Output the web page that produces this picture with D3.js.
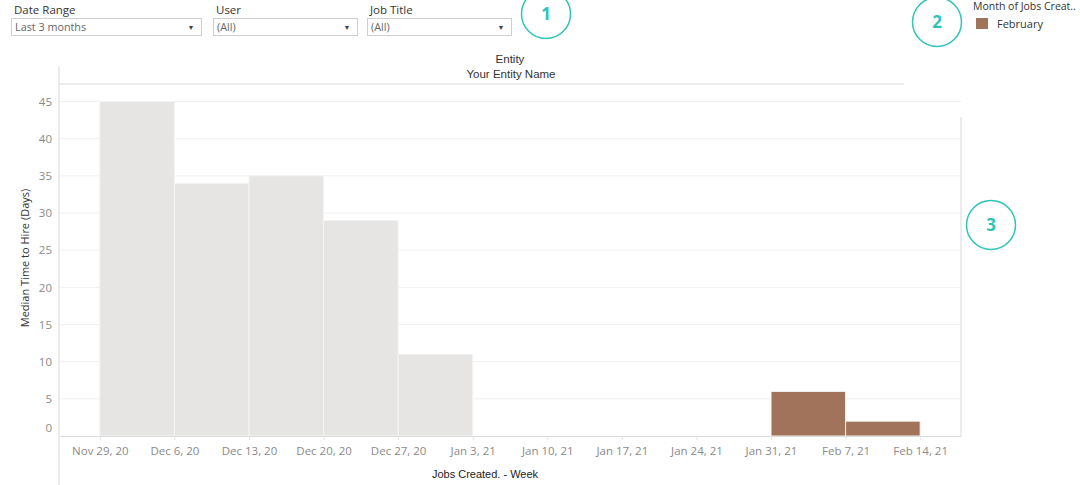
<!DOCTYPE html>
<html>
<head>
<meta charset="utf-8">
<script src="https://cdn.jsdelivr.net/npm/d3@7"></script>
<style>
  body { margin: 0; background: #fff; }
  svg text { font-family: "Open Sans", sans-serif; }
</style>
</head>
<body>
<div id="chart"></div>
<script>
// Data: one bar per week of job creation
const weeks = ["2020-11-29", "2020-12-06", "2020-12-13", "2020-12-20", "2020-12-27", "2021-01-31", "2021-02-07"];
const medianDays = [45, 34, 35, 29, 11, 6, 2];
const monthGroup = ["other", "other", "other", "other", "other", "February", "February"];
const yTicks = [0, 5, 10, 15, 20, 25, 30, 35, 40, 45];
const filterNames = ["Date Range", "User", "Job Title"];
const filterValues = ["Last 3 months", "(All)", "(All)"];
const legendItems = ["February"];

const W = 1080, H = 485;
const teal = "#2fc4b8";
const colors = {other: "#e6e5e3", February: "#a1735a"};

const svg = d3.select("#chart").append("svg")
  .attr("width", W).attr("height", H);

const parse = d3.utcParse("%Y-%m-%d");
const bars = weeks.map((w, i) => ({date: parse(w), value: medianDays[i], group: monthGroup[i]}));

// Plot area
const left = 59, right = 961, base = 436;
const firstWeek = parse("2020-11-29"), lastWeek = parse("2021-02-14");

const x = d3.scaleUtc()
  .domain([d3.utcHour.offset(firstWeek, -92), d3.utcHour.offset(lastWeek, 92)])
  .range([left, right]);

const y = d3.scaleLinear()
  .domain([0, 45])
  .range([base, 101.5]);

// Gridlines
svg.append("g")
  .selectAll("line")
  .data(yTicks.filter(d => d > 0))
  .enter().append("line")
    .attr("x1", left).attr("x2", right)
    .attr("y1", d => y(d)).attr("y2", d => y(d))
    .attr("stroke", "#f0f0f0");

// Bars
svg.append("g")
  .selectAll("rect")
  .data(bars)
  .enter().append("rect")
    .attr("x", d => x(d.date))
    .attr("y", d => y(d.value))
    .attr("width", d => x(d3.utcWeek.offset(d.date, 1)) - x(d.date))
    .attr("height", d => base - y(d.value))
    .attr("fill", d => colors[d.group])
    .attr("stroke", "#f4f4f4")
    .attr("stroke-width", 1);

// Y axis
const yAxis = svg.append("g")
  .attr("transform", "translate(" + left + ",0)")
  .call(d3.axisLeft(y).tickValues(yTicks).tickSize(0).tickPadding(7));
yAxis.select(".domain").remove();
yAxis.selectAll("text")
  .attr("fill", "#8a8a8a")
  .style("font-size", "11.5px")
  .attr("dy", d => d === 0 ? "-0.35em" : "0.32em");

// X axis
const xAxis = svg.append("g")
  .attr("transform", "translate(0," + base + ")")
  .call(d3.axisBottom(x)
    .ticks(d3.utcWeek.every(1))
    .tickFormat(d3.utcFormat("%b %-d, %y"))
    .tickSize(4).tickSizeOuter(0).tickPadding(7));
xAxis.select(".domain").attr("stroke", "#dcdcdc");
xAxis.selectAll(".tick line").attr("stroke", "#e4e4e4");
xAxis.selectAll("text")
  .attr("fill", "#8a8a8a")
  .style("font-size", "11.5px");

// Frame lines
svg.append("line")
  .attr("x1", left).attr("x2", left).attr("y1", 66).attr("y2", H)
  .attr("stroke", "#d8d8d8");
svg.append("line")
  .attr("x1", right).attr("x2", right).attr("y1", 117).attr("y2", base)
  .attr("stroke", "#d8d8d8");
svg.append("line")
  .attr("x1", left).attr("x2", 904).attr("y1", 84).attr("y2", 84)
  .attr("stroke", "#dcdcdc");

// Header
svg.append("text").attr("x", 510).attr("y", 63)
  .attr("text-anchor", "middle").style("font-family", "Liberation Sans, Arial")
  .style("font-size", "11.5px").attr("fill", "#333").text("Entity");
svg.append("text").attr("x", 511).attr("y", 78)
  .attr("text-anchor", "middle").style("font-family", "Liberation Sans, Arial")
  .style("font-size", "11.5px").attr("fill", "#333").text("Your Entity Name");

// Axis titles
svg.append("text")
  .attr("transform", "translate(29,258) rotate(-90)")
  .attr("text-anchor", "middle")
  .style("font-size", "11px").attr("fill", "#333")
  .text("Median Time to Hire (Days)");
svg.append("text").attr("x", 485).attr("y", 478)
  .attr("text-anchor", "middle").style("font-family", "Liberation Sans, Arial")
  .style("font-size", "11px").attr("fill", "#222")
  .text("Jobs Created. - Week");

// Filters
const filterX = [11, 213, 367];
const filterW = [190, 144, 144];
const filters = svg.append("g").selectAll("g")
  .data(filterNames)
  .enter().append("g")
    .attr("transform", (d, i) => "translate(" + filterX[i] + ",0)");
filters.append("text").attr("x", 3).attr("y", 14)
  .style("font-size", "11.5px").attr("fill", "#333").text(d => d);
filters.append("rect")
  .attr("x", 0.5).attr("y", 18.5)
  .attr("width", (d, i) => filterW[i]).attr("height", 17)
  .attr("fill", "#fff").attr("stroke", "#cfcfcf");
filters.append("text").attr("x", 4).attr("y", 31)
  .style("font-size", "10.8px").attr("fill", "#666")
  .text((d, i) => filterValues[i]);
filters.append("text").attr("x", (d, i) => filterW[i] - 10).attr("y", 30)
  .attr("text-anchor", "middle")
  .style("font-size", "7px").attr("fill", "#444").text("▼");

// Legend (title is clipped by its card in the reference)
svg.append("text").attr("x", 973).attr("y", 10)
  .style("font-size", "10.5px").attr("fill", "#333").text("Month of Jobs Creat..");
const leg = svg.append("g").selectAll("g")
  .data(legendItems).enter().append("g")
  .attr("transform", (d, i) => "translate(976," + (18 + i * 16) + ")");
leg.append("rect").attr("width", 12).attr("height", 11).attr("fill", d => colors[d]);
leg.append("text").attr("x", 21).attr("y", 10)
  .style("font-size", "11px").attr("fill", "#333").text(d => d);

// Numbered annotation circles
const marks = [{n: "1", cx: 546, cy: 14}, {n: "2", cx: 937, cy: 22}, {n: "3", cx: 991, cy: 225}];
const m = svg.append("g").selectAll("g").data(marks).enter().append("g");
m.append("circle")
  .attr("cx", d => d.cx).attr("cy", d => d.cy).attr("r", 24.5)
  .attr("fill", "none").attr("stroke", teal).attr("stroke-width", 1.5);
m.append("text")
  .attr("x", d => d.cx).attr("y", d => d.cy + 6)
  .attr("text-anchor", "middle")
  .style("font-size", "17px").style("font-weight", "bold")
  .attr("fill", teal).text(d => d.n);
</script>
</body>
</html>
